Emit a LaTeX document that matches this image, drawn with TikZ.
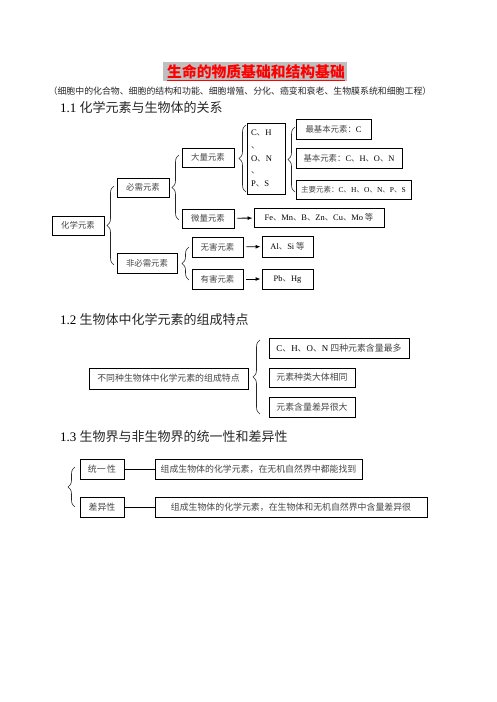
\documentclass[tikz,border=0pt]{standalone}
\usepackage{fontspec}
\setmainfont{Liberation Serif}
\newfontfamily\cjk{Noto Sans CJK SC}
\usetikzlibrary{decorations.pathreplacing,arrows.meta}
\newcommand\La[1]{{\rmfamily\color{black}#1}}
\newcommand\mkbox[7][]{\node[bx,#1,minimum width={(#5)-(#3)},minimum height={(#6)-(#4)}] (#2) at ({((#3)+(#5))/2},{((#4)+(#6))/2}) {#7};}
\newcommand\brc[4]{\draw[brc] (#1,#3) -- (#1,#2);}
\tikzset{
  bx/.style={draw=black,line width=0.9pt,inner sep=0pt,text=black!72,font=\cjk\fontsize{8.4}{10}\selectfont},
  bxl/.style={font=\cjk\fontsize{8.9}{10}\selectfont},
  brc/.style={decorate,decoration={brace,amplitude=7pt},line width=0.6pt,black!85},
  arr/.style={line width=0.9pt,-{Latex[length=5pt,width=4pt]},shorten <=3pt,shorten >=1pt},
  ln/.style={line width=0.9pt},
  head/.style={anchor=west,inner sep=0pt,font=\cjk\fontsize{13}{15}\selectfont,text=black!85}
}
\begin{document}
\begin{tikzpicture}[x=1pt,y=-1pt]
\useasboundingbox (0,0) rectangle (496,702);
% title
\fill[black!25] (163,62) rectangle (347,81);
\node[inner sep=0pt,text=red,font=\cjk\bfseries\fontsize{14.8}{16}\selectfont] (title) at (256,71.5) {生命的物质基础和结构基础};
\draw[red,line width=1pt] (title.south west) ++(0,1.5) -- ++(178,0);
\node[inner sep=0pt,font=\cjk\fontsize{8.9}{10}\selectfont,text=black!85] (sub) at (240,91) {（细胞中的化合物、细胞的结构和功能、细胞增殖、分化、癌变和衰老、生物膜系统和细胞工程）};
% 1.1
\node[head] (h1) at (60,107) {\La{1.1 }化学元素与生物体的关系};
\mkbox{hx}{52}{216}{104}{235}{化学元素}
\mkbox{bx}{117}{178}{169}{197}{必需元素}
\mkbox{fbx}{117}{253}{177}{273}{非必需元素}
\mkbox{dl}{182}{148}{234}{167}{大量元素}
\mkbox{wl}{182}{209}{234}{228}{微量元素}
\mkbox{wh}{192}{237}{243}{257}{无害元素}
\mkbox{yh}{192}{269}{243}{289}{有害元素}
\mkbox[align=left,text width=30pt,font=\cjk\fontsize{8.6}{12.8}\selectfont]{chn}{247}{123}{285}{194}{\La{C}、\La{H}\\、\\\La{O}、\La{N}\\、\\\La{P}、\La{S}}
\mkbox{zjb}{296}{119}{371}{139}{最基本元素：\La{C}}
\mkbox{jb}{296}{148}{402}{168}{基本元素：\La{C}、\La{H}、\La{O}、\La{N}}
\mkbox[font=\cjk\fontsize{7.5}{10}\selectfont]{zy}{296}{180}{411}{199}{主要元素：\La{C}、\La{H}、\La{O}、\La{N}、\La{P}、\La{S}}
\mkbox{fe}{254}{208}{384}{227}{\La{Fe}、\La{Mn}、\La{B}、\La{Zn}、\La{Cu}、\La{Mo} 等}
\mkbox{al}{262}{236}{313}{257}{\La{Al}、\La{Si} 等}
\mkbox{pb}{262}{269}{313}{289}{\La{Pb}、\La{Hg}}
\brc{114}{186}{265}{}
\brc{179}{155}{220}{}
\brc{189}{247}{280}{}
\brc{246}{125}{192}{}
\brc{295}{127}{192}{}
\draw[arr] (wl) -- (fe);
\draw[arr] (wh) -- (al);
\draw[arr] (yh) -- (pb);
% 1.2
\node[head] (h2) at (60,320) {\La{1.2 }生物体中化学元素的组成特点};
\mkbox[bxl]{ts}{89}{368}{248}{389}{不同种生物体中化学元素的组成特点}
\mkbox[bxl]{c1}{269}{338}{409}{358}{\La{C}、\La{H}、\La{O}、\La{N} 四种元素含量最多}
\mkbox[bxl]{c2}{269}{368}{355}{387}{元素种类大体相同}
\mkbox[bxl]{c3}{269}{397}{355}{417}{元素含量差异很大}
\brc{260}{340}{414}{}
% 1.3
\node[head] (h3) at (60,437) {\La{1.3 }生物界与非生物界的统一性和差异性};
\mkbox[bxl]{ty}{80}{459}{124}{479}{统一\,性}
\mkbox[bxl]{cy}{80}{497}{124}{517}{差异性}
\mkbox[bxl]{t1}{155}{459}{362}{479}{组成生物体的化学元素，在无机自然界中都能找到}
\mkbox[bxl]{t2}{155}{497}{427}{517}{组成生物体的化学元素，在生物体和无机自然界中含量差异很}
\brc{75}{467}{507}{}
\draw[ln] (ty) -- (t1);
\draw[ln] (cy) -- (t2);
\end{tikzpicture}
\end{document}
